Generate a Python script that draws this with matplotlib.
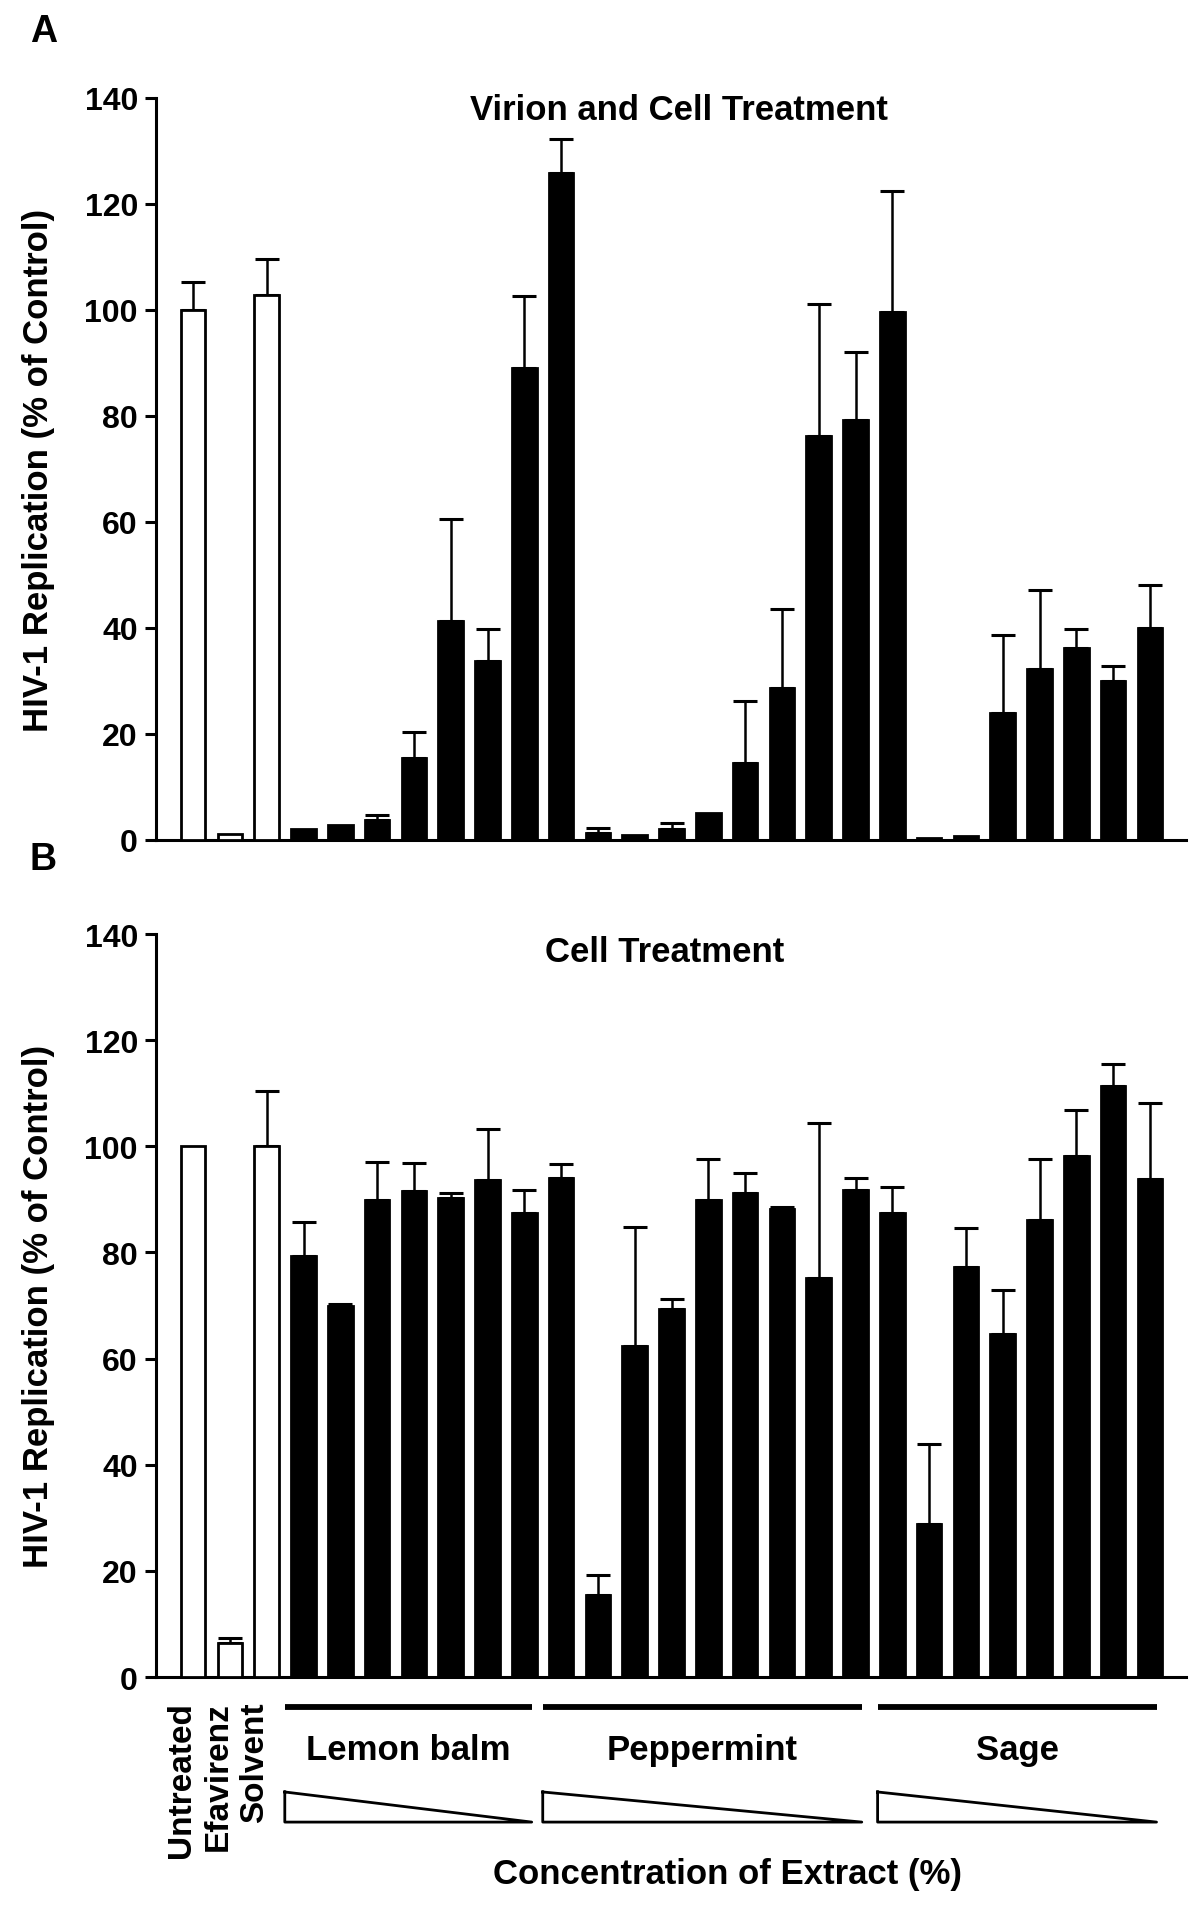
import numpy as np
import matplotlib
matplotlib.use("Agg")
import matplotlib.pyplot as plt
from matplotlib.transforms import blended_transform_factory

plt.rcParams['font.family'] = ['Liberation Sans', 'DejaVu Sans']
plt.rcParams['font.weight'] = 'bold'

# controls (white bars) then 24 extract dilutions (black bars)
controls = ["Untreated", "Efavirenz", "Solvent"]
groups = ["Lemon balm", "Peppermint", "Sage"]

# panel A - virion and cell treatment
a_control_vals = [100.0, 1.2, 102.8]
a_control_err = [5.3, 0.0, 6.8]
a_extract_vals = [2.0, 2.8, 3.7, 15.5, 41.2, 33.7, 89.0, 125.8,
                  1.4, 0.9, 2.0, 5.0, 14.6, 28.6, 76.2, 79.2, 99.5,
                  0.3, 0.75, 24.0, 32.2, 36.1, 30.0, 39.9]
a_extract_err = [0.0, 0.0, 1.0, 4.9, 19.4, 6.1, 13.6, 6.4,
                 0.9, 0.0, 1.1, 0.0, 11.6, 14.9, 24.9, 12.9, 22.8,
                 0.0, 0.0, 14.7, 15.0, 3.6, 2.8, 8.2]

# panel B - cell treatment
b_control_vals = [100.0, 6.5, 100.0]
b_control_err = [0.0, 0.9, 10.5]
b_extract_vals = [79.4, 69.9, 89.9, 91.5, 90.2, 93.6, 87.5, 94.0,
                  15.4, 62.3, 69.4, 89.8, 91.3, 88.2, 75.1, 91.7, 87.5,
                  28.8, 77.3, 64.6, 86.1, 98.2, 111.4, 93.9]
b_extract_err = [6.4, 0.4, 7.2, 5.3, 1.0, 9.6, 4.2, 2.6,
                 3.9, 22.5, 1.8, 7.8, 3.6, 0.4, 29.3, 2.4, 4.8,
                 15.2, 7.4, 8.3, 11.6, 8.6, 4.2, 14.3]

# where the group brackets sit along the bar positions (as drawn in the figure)
group_spans = [(2.49, 9.20), (9.50, 18.17), (18.60, 26.18)]

yticks = [0, 20, 40, 60, 80, 100, 120, 140]

fig = plt.figure(figsize=(12, 19.06), dpi=100)
ax_a = fig.add_axes([0.13, 0.5588, 0.8583, 0.3895])
ax_b = fig.add_axes([0.13, 0.1196, 0.8583, 0.3898])


def draw_panel(ax, ctrl_vals, ctrl_err, ext_vals, ext_err):
    vals = np.array(ctrl_vals + ext_vals)
    errs = np.array(ctrl_err + ext_err)
    x = np.arange(len(vals))
    colors = ['white'] * len(ctrl_vals) + ['black'] * len(ext_vals)

    mask = errs > 0
    ax.errorbar(x[mask], vals[mask], yerr=[np.zeros(mask.sum()), errs[mask]],
                fmt='none', ecolor='black', elinewidth=1.8,
                capsize=8.8, capthick=2.2, zorder=2)
    ax.bar(x, vals, width=0.67, color=colors, edgecolor='black',
           linewidth=2.0, zorder=3)

    ax.set_xlim(-1.01, 26.98)
    ax.set_ylim(0, 140)
    ax.set_yticks(yticks)
    ax.set_xticks([])
    ax.spines['top'].set_visible(False)
    ax.spines['right'].set_visible(False)
    ax.spines['left'].set_linewidth(2.2)
    ax.spines['bottom'].set_linewidth(2.2)
    ax.tick_params(axis='y', length=8, width=2.2, pad=5, labelsize=23)
    for lab in ax.get_yticklabels():
        lab.set_fontweight('bold')


draw_panel(ax_a, a_control_vals, a_control_err, a_extract_vals, a_extract_err)
draw_panel(ax_b, b_control_vals, b_control_err, b_extract_vals, b_extract_err)

# titles, panel letters, y labels
fig.text(0.566, 0.9418, "Virion and Cell Treatment", ha='center', va='center',
         fontsize=25, fontweight='bold')
fig.text(0.554, 0.5, "Cell Treatment", ha='center', va='center',
         fontsize=25, fontweight='bold')
fig.text(0.036, 0.983, "A", ha='center', va='center', fontsize=27, fontweight='bold')
fig.text(0.036, 0.549, "B", ha='center', va='center', fontsize=27, fontweight='bold')
for yc in (0.7534, 0.3145):
    fig.text(0.032, yc, "HIV-1 Replication (% of Control)", rotation=90,
             ha='center', va='center', fontsize=25, fontweight='bold')

# labels under panel B
trans = blended_transform_factory(ax_b.transData, fig.transFigure)
for i, name in enumerate(controls):
    ax_b.text(i - 0.33, 0.107, name, rotation=90, ha='center', va='top',
              fontsize=24, fontweight='bold', transform=trans, clip_on=False)

for name, (x0, x1) in zip(groups, group_spans):
    ax_b.plot([x0, x1], [0.1039, 0.1039], color='black', lw=4.2,
              solid_capstyle='butt', transform=trans, clip_on=False)
    ax_b.text((x0 + x1) / 2, 0.0818, name, ha='center', va='center',
              fontsize=25, fontweight='bold', transform=trans, clip_on=False)
    # decreasing concentration wedge
    ax_b.plot([x0, x0, x1, x0], [0.0593, 0.0435, 0.0435, 0.0593],
              color='black', lw=2.0, transform=trans, clip_on=False)

fig.text(0.606, 0.0163, "Concentration of Extract (%)", ha='center', va='center',
         fontsize=25, fontweight='bold')

fig.savefig("out.png", dpi=100, facecolor='white')
